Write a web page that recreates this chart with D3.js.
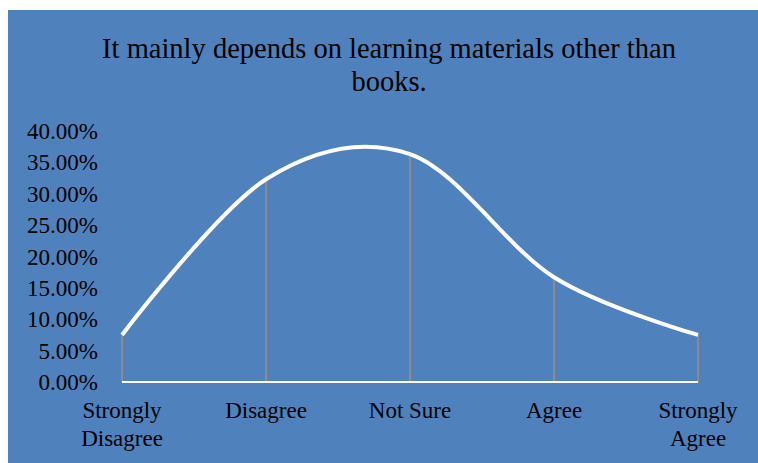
<!DOCTYPE html>
<html>
<head>
<meta charset="utf-8">
<script src="https://cdn.jsdelivr.net/npm/d3@7"></script>
<style>
  body { margin: 0; background: #fff; }
  text { font-family: "Liberation Serif", "Times New Roman", serif; fill: #000; }
</style>
</head>
<body>
<div id="container"></div>
<script>
var categories = ["Strongly Disagree", "Disagree", "Not Sure", "Agree", "Strongly Agree"];
var categoryLines = [["Strongly", "Disagree"], ["Disagree"], ["Not Sure"], ["Agree"], ["Strongly", "Agree"]];
var values = [0.075, 0.323, 0.363, 0.167, 0.075];
var yTicks = [0, 0.05, 0.10, 0.15, 0.20, 0.25, 0.30, 0.35, 0.40];
var titleLines = ["It mainly depends on learning materials other than", "books."];

var W = 758, H = 463;
var margin = {top: 131, left: 122},
    width = 698 - margin.left,
    height = 382 - margin.top;

var svg = d3.select("#container")
  .append("svg")
    .attr("width", W)
    .attr("height", H);

svg.append("rect")
  .attr("x", 8).attr("y", 10)
  .attr("width", W - 8).attr("height", H - 10)
  .attr("fill", "#4f81bd");

svg.selectAll(".title")
  .data(titleLines)
  .enter()
  .append("text")
  .attr("class", "title")
  .attr("x", 389)
  .attr("y", function(d, i) { return 58 + i * 33; })
  .attr("text-anchor", "middle")
  .style("font-size", "28.5px")
  .text(function(d) { return d; });

var g = svg.append("g")
  .attr("transform", "translate(" + margin.left + "," + margin.top + ")");

var x = d3.scalePoint()
  .domain(categories)
  .range([0, width]);

var y = d3.scaleLinear()
  .domain([0, 0.4])
  .range([height, 0]);

// y tick labels
g.selectAll(".ytick")
  .data(yTicks)
  .enter()
  .append("text")
  .attr("class", "ytick")
  .attr("x", -24)
  .attr("y", function(d) { return y(d); })
  .attr("dy", "0.35em")
  .attr("text-anchor", "end")
  .style("font-size", "23px")
  .text(function(d) { return d3.format(".2%")(d); });

// drop lines
g.selectAll(".drop")
  .data(values)
  .enter()
  .append("line")
  .attr("class", "drop")
  .attr("x1", function(d, i) { return x(categories[i]); })
  .attr("x2", function(d, i) { return x(categories[i]); })
  .attr("y1", function(d) { return y(d); })
  .attr("y2", y(0))
  .attr("stroke", "#8c8c8c")
  .attr("stroke-width", 2);

// x axis line
g.append("line")
  .attr("x1", 0).attr("x2", width)
  .attr("y1", y(0)).attr("y2", y(0))
  .attr("stroke", "#fff")
  .attr("stroke-width", 2);

// category labels
var cat = g.selectAll(".cat")
  .data(categories)
  .enter()
  .append("text")
  .attr("class", "cat")
  .attr("text-anchor", "middle")
  .style("font-size", "23px")
  .attr("transform", function(d) { return "translate(" + x(d) + "," + (height + 36) + ")"; });

cat.selectAll("tspan")
  .data(function(d, i) { return categoryLines[i]; })
  .enter()
  .append("tspan")
  .attr("x", 0)
  .attr("dy", function(d, i) { return i ? 28 : 0; })
  .text(function(d) { return d; });

var line = d3.line()
  .x(function(d, i) { return x(categories[i]); })
  .y(function(d) { return y(d); })
  .curve(d3.curveCatmullRom.alpha(0));

g.append("path")
  .datum(values)
  .attr("d", line)
  .attr("fill", "none")
  .attr("stroke", "#fff")
  .attr("stroke-width", 4);
</script>
</body>
</html>
